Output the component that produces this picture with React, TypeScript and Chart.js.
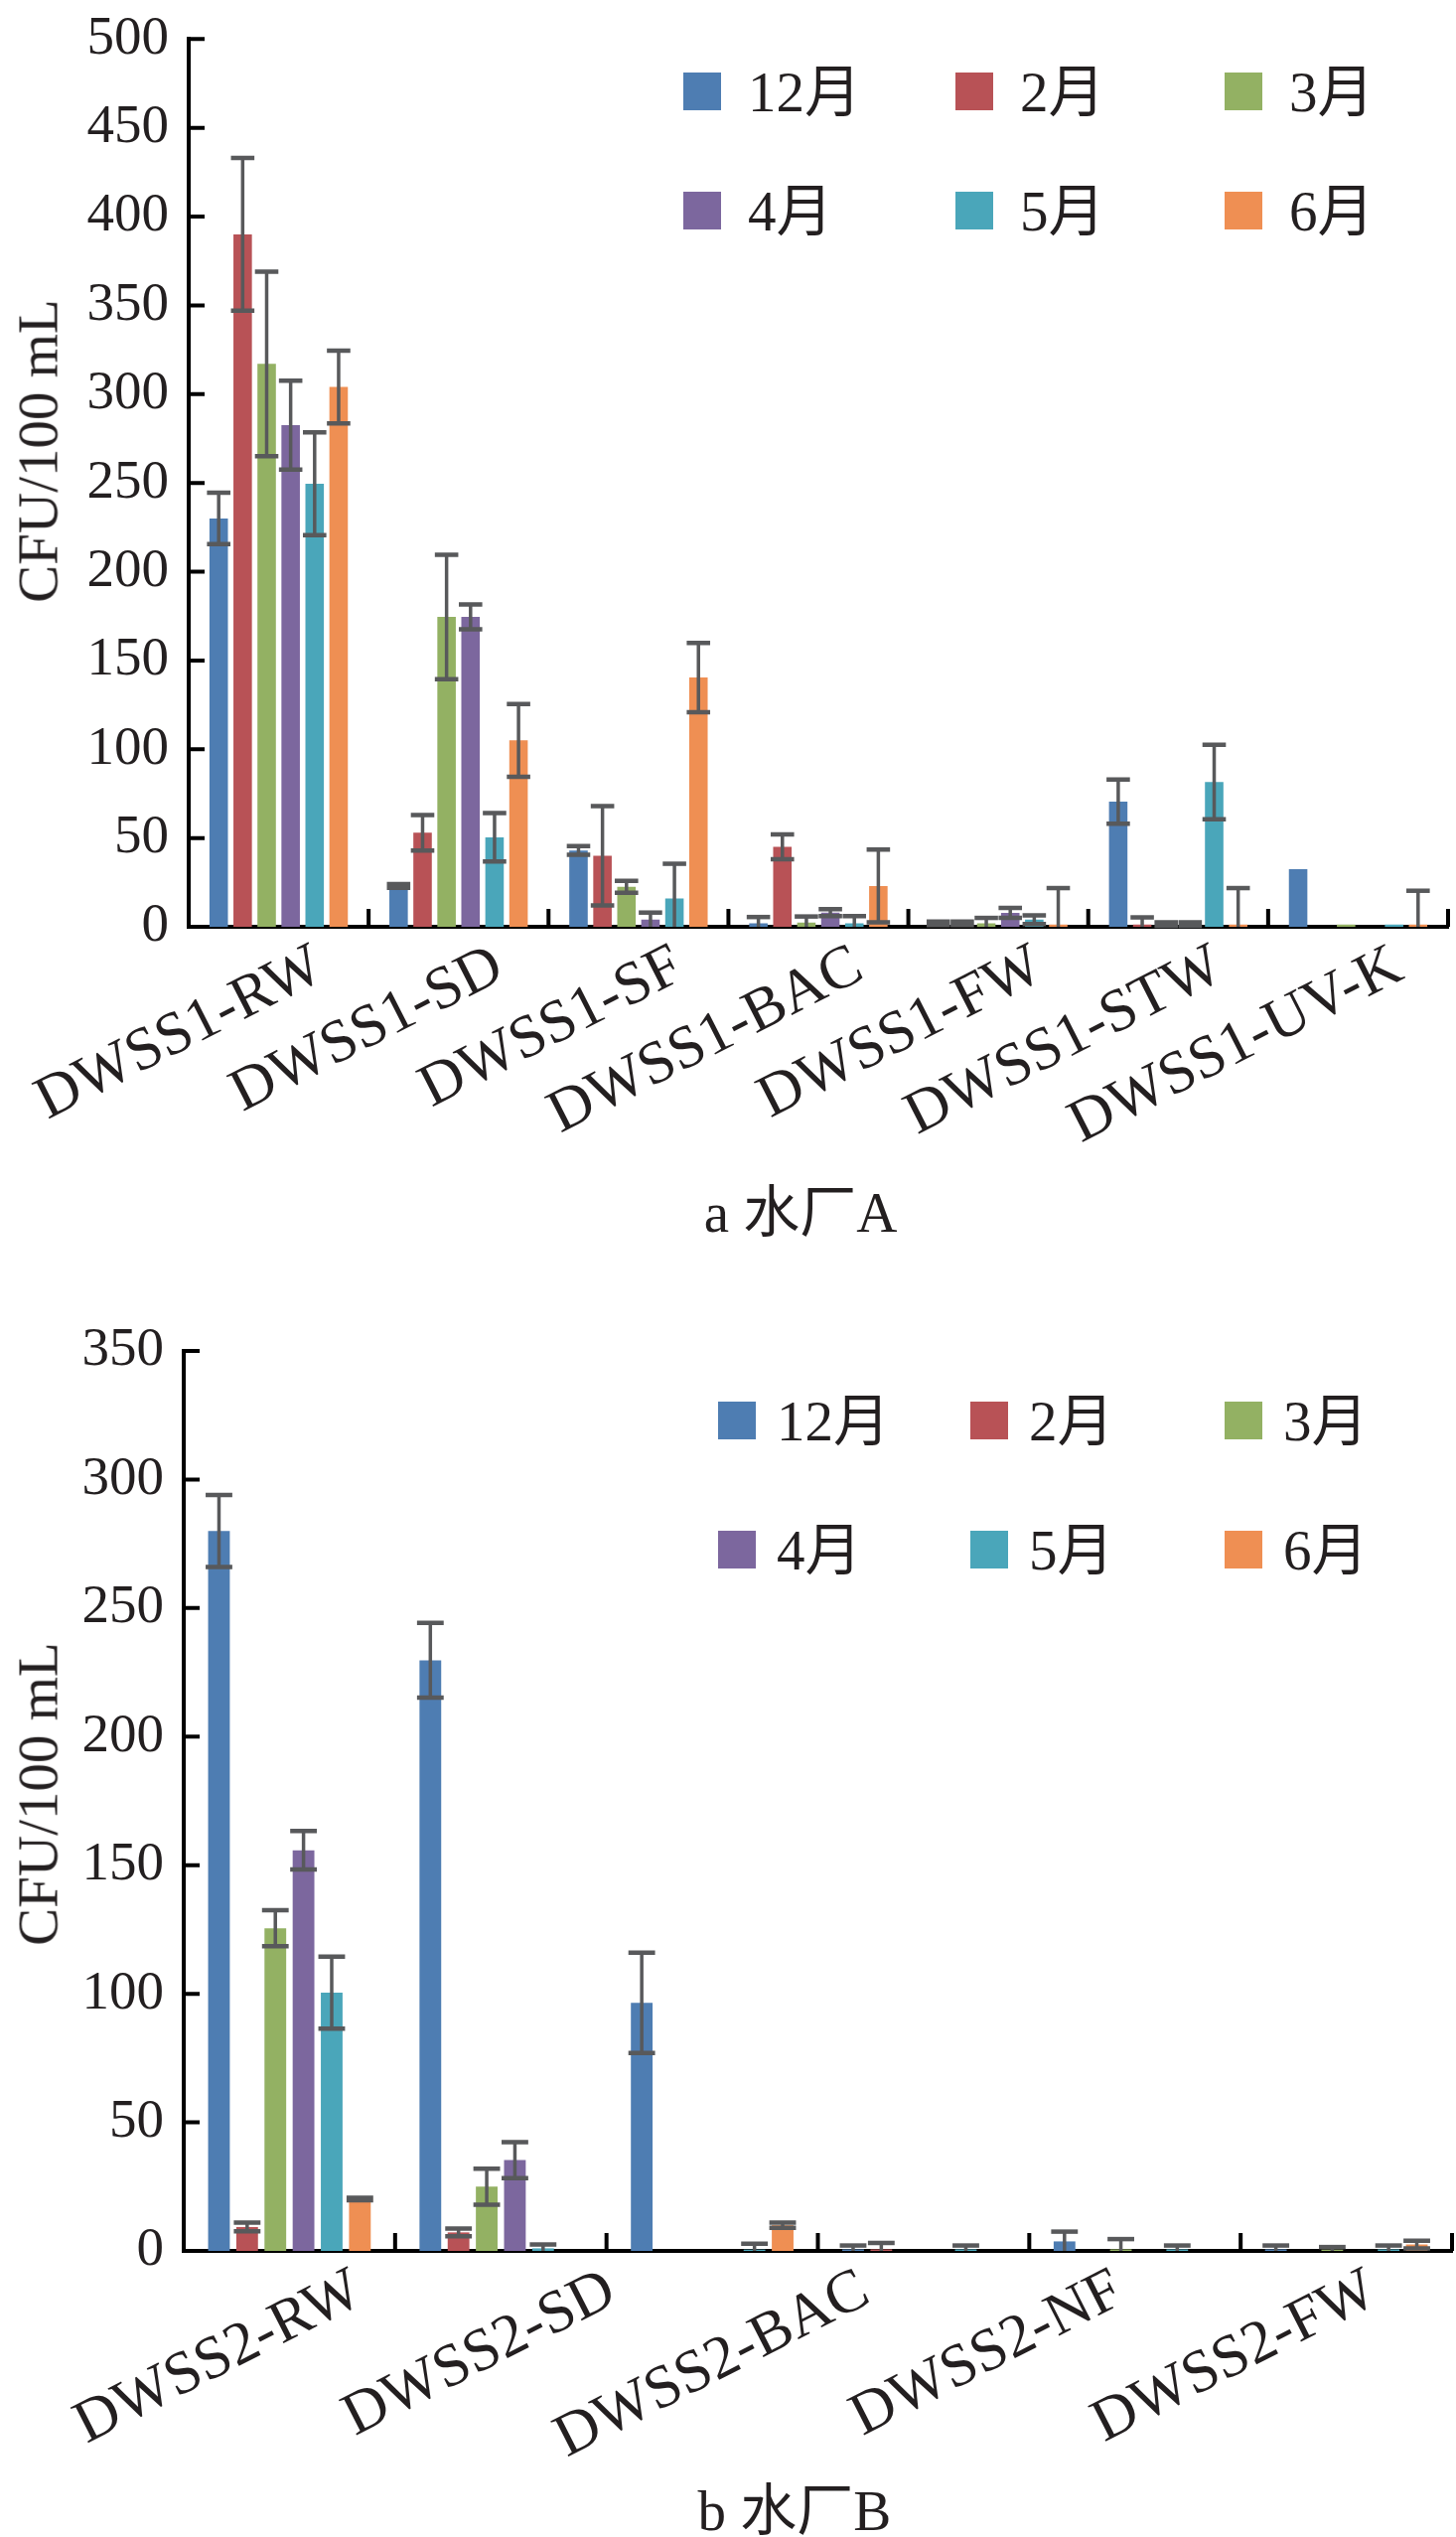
import React, { useEffect, useRef } from 'react';
import { Chart, registerables } from 'chart.js';

Chart.register(...registerables);

// ---------------- data ----------------
const months = ['12月', '2月', '3月', '4月', '5月', '6月'];
const colors = ['#4e7db2', '#b85256', '#93b163', '#7c679e', '#4aa6ba', '#ef8f53'];

// Plant A
const sitesA = ['DWSS1-RW', 'DWSS1-SD', 'DWSS1-SF', 'DWSS1-BAC', 'DWSS1-FW', 'DWSS1-STW', 'DWSS1-UV-K'];
const aDec = [230, 23, 43, 2, 2, 70.5, 32.4];
const aFeb = [390, 53, 40, 45, 2, 1.3, 0];
const aMar = [317, 174.5, 22.5, 2.4, 2, 1.5, 1.3];
const aApr = [282.5, 174.5, 4, 8, 7.8, 1.5, 0];
const aMay = [249.5, 50.4, 16, 2, 4, 81.5, 1.3];
const aJun = [304, 105, 140.4, 23, 1.3, 1.3, 1.3];
const aDecErr = [14.5, 1, 2.5, 3.5, 1, 12.5, 0];
const aFebErr = [43, 10, 28, 7, 1, 4, 0];
const aMarErr = [52, 35, 3.4, 3.4, 3, 1, 0];
const aAprErr = [25, 7, 4, 2, 2.8, 1, 0];
const aMayErr = [29, 13.6, 19.5, 4, 2.5, 21, 0];
const aJunErr = [20.5, 20.5, 19.5, 20.5, 20.5, 20.5, 19];
const yTicksA = { min: 0, max: 500, step: 50 };

// Plant B (six bar groups, five printed tick labels)
const groupsB = ['B1', 'B2', 'B3', 'B4', 'B5', 'B6'];
const tickLabelsB = ['DWSS2-RW', 'DWSS2-SD', 'DWSS2-BAC', 'DWSS2-NF', 'DWSS2-FW'];
const bDec = [280, 229.7, 96.5, 0.6, 3.7, 0.6];
const bFeb = [9.3, 7.2, 0, 0.6, 0, 0];
const bMar = [125.5, 25, 0, 0, 0.6, 0.5];
const bApr = [155.8, 35.3, 0, 0, 0, 0];
const bMay = [100.4, 1, 0.5, 0.6, 0.6, 0.6];
const bJun = [20.2, 0, 10, 0, 0, 2.5];
const bDecErr = [14, 14.5, 19.5, 1.5, 3.8, 1.5];
const bFebErr = [1.7, 1.5, 0, 2.5, 0, 0];
const bMarErr = [7, 7, 0, 0, 4, 1];
const bAprErr = [7.5, 7, 0, 0, 0, 0];
const bMayErr = [14, 1.5, 2.3, 1.5, 1.5, 1.5];
const bJunErr = [0.5, 0, 1, 0, 0, 1.5];
const yTicksB = { min: 0, max: 350, step: 50 };

const yTitle = 'CFU/100 mL';
const captionA = 'a 水厂A';
const captionB = 'b 水厂B';

// ---------------- styling ----------------
const SERIF = "'Liberation Serif', 'Times New Roman', 'Noto Sans CJK SC', serif";
const TEXT = '#231f20';
const ERR = '#58595b';

const errorBarPlugin = {
  id: 'errorBars',
  afterDatasetsDraw(chart: any, _args: any, opts: any) {
    const { ctx } = chart;
    const y = chart.scales.y;
    ctx.save();
    ctx.strokeStyle = opts.color;
    ctx.lineCap = 'butt';
    chart.data.datasets.forEach((ds: any, di: number) => {
      const meta = chart.getDatasetMeta(di);
      const errs = ds.errors;
      if (!errs) return;
      meta.data.forEach((bar: any, i: number) => {
        const e = errs[i];
        const v = ds.data[i];
        if (!e) return;
        const top = y.getPixelForValue(v + e);
        const low = Math.max(v - e, 0);
        const bot = y.getPixelForValue(low);
        const half = bar.width / 2 + opts.capExtra;
        ctx.lineWidth = opts.stemWidth;
        ctx.beginPath();
        ctx.moveTo(bar.x, top);
        ctx.lineTo(bar.x, bot);
        ctx.stroke();
        ctx.lineWidth = opts.capWidth;
        ctx.beginPath();
        ctx.moveTo(bar.x - half, top);
        ctx.lineTo(bar.x + half, top);
        if (low > 0) {
          ctx.moveTo(bar.x - half, bot);
          ctx.lineTo(bar.x + half, bot);
        }
        ctx.stroke();
      });
    });
    ctx.restore();
  },
};

const innerTicksPlugin = {
  id: 'innerTicks',
  afterDraw(chart: any, _args: any, opts: any) {
    const { ctx, chartArea } = chart;
    const y = chart.scales.y;
    const x = chart.scales.x;
    ctx.save();
    ctx.strokeStyle = '#000';
    ctx.lineWidth = opts.width;
    ctx.beginPath();
    y.ticks.forEach((t: any) => {
      const py = y.getPixelForValue(t.value);
      ctx.moveTo(chartArea.left, py);
      ctx.lineTo(chartArea.left + opts.yLen, py);
    });
    const n = x.getLabels().length;
    const step = x.getPixelForValue(1) - x.getPixelForValue(0);
    for (let i = 0; i < n; i++) {
      const px = x.getPixelForValue(i) + step / 2;
      ctx.moveTo(px, chartArea.bottom);
      ctx.lineTo(px, chartArea.bottom - opts.xLen);
    }
    ctx.stroke();
    ctx.restore();
  },
};

function makeDatasets(values: number[][], errors: number[][]) {
  return months.map((m, i) => ({
    label: m,
    data: values[i],
    errors: errors[i],
    backgroundColor: colors[i],
    borderWidth: 0,
    categoryPercentage: 0.8,
    barPercentage: 0.77,
    xAxisID: 'x',
  }));
}

function yScale(t: { min: number; max: number; step: number }, width: number) {
  return {
    min: t.min,
    max: t.max,
    grid: { display: false, drawTicks: false },
    border: { display: true, color: '#000', width: 4 },
    ticks: { stepSize: t.step, padding: 20, color: TEXT, font: { family: SERIF, size: 55, lineHeight: 0.7 } },
    title: { display: false },
    afterFit: (s: any) => { s.width = width; },
  };
}

function fixX(height: number) {
  return (s: any) => {
    s.height = height;
    s.paddingLeft = 0;
    s.paddingRight = 0;
  };
}

const rotatedTicks = {
  autoSkip: false,
  minRotation: 27,
  maxRotation: 27,
  padding: 4,
  labelOffset: 41,
  color: TEXT,
  font: { family: SERIF, size: 61 },
};

const commonOptions = {
  responsive: false,
  animation: false,
  devicePixelRatio: 1,
};

const pluginOpts = {
  legend: { display: false },
  tooltip: { enabled: false },
  errorBars: { color: ERR, stemWidth: 3.5, capWidth: 4.5, capExtra: 2.5 },
  innerTicks: { width: 4, yLen: 16, xLen: 18 },
};

function configA(): any {
  return {
    type: 'bar',
    data: {
      labels: sitesA,
      datasets: makeDatasets([aDec, aFeb, aMar, aApr, aMay, aJun], [aDecErr, aFebErr, aMarErr, aAprErr, aMayErr, aJunErr]),
    },
    plugins: [errorBarPlugin, innerTicksPlugin],
    options: {
      ...commonOptions,
      layout: { padding: { top: 20, right: 8, left: 0, bottom: 0 } },
      plugins: pluginOpts,
      scales: {
        x: {
          type: 'category',
          offset: true,
          grid: { display: false, drawTicks: false },
          border: { display: true, color: '#000', width: 4 },
          ticks: rotatedTicks,
          afterFit: fixX(247),
        },
        y: yScale(yTicksA, 190),
      },
    },
  };
}

function configB(): any {
  return {
    type: 'bar',
    data: {
      labels: groupsB,
      datasets: makeDatasets([bDec, bFeb, bMar, bApr, bMay, bJun], [bDecErr, bFebErr, bMarErr, bAprErr, bMayErr, bJunErr]),
    },
    plugins: [errorBarPlugin, innerTicksPlugin],
    options: {
      ...commonOptions,
      layout: { padding: { top: 40, right: 4, left: 0, bottom: 0 } },
      plugins: pluginOpts,
      scales: {
        x: {
          type: 'category',
          offset: true,
          weight: 0,
          grid: { display: false, drawTicks: false },
          border: { display: true, color: '#000', width: 4 },
          ticks: { display: false },
          afterFit: fixX(0),
        },
        xl: {
          type: 'category',
          labels: tickLabelsB,
          position: 'bottom',
          offset: true,
          weight: 1,
          grid: { display: false, drawTicks: false },
          border: { display: false },
          ticks: { ...rotatedTicks, labelOffset: 48 },
          afterFit: fixX(244),
        },
        y: yScale(yTicksB, 185),
      },
    },
  };
}

function ChartCanvas({ top, height, make }: { top: number; height: number; make: () => any }) {
  const ref = useRef<HTMLCanvasElement | null>(null);
  useEffect(() => {
    if (!ref.current) return;
    const chart = new Chart(ref.current, make());
    return () => chart.destroy();
  }, []);
  return (
    <canvas
      ref={ref}
      width={1466}
      height={height}
      style={{ position: 'absolute', left: 0, top, width: 1466, height, display: 'block' }}
    />
  );
}

function Legend({ xs, rows, gap }: { xs: number[]; rows: number[]; gap: number }) {
  return (
    <>
      {months.map((m, i) => {
        const col = i % 3;
        const row = Math.floor(i / 3);
        return (
          <div
            key={m}
            style={{
              position: 'absolute',
              left: xs[col],
              top: rows[row] - 28.5,
              height: 57,
              display: 'flex',
              alignItems: 'center',
              whiteSpace: 'nowrap',
            }}
          >
            <div style={{ width: 38, height: 38, background: colors[i], marginRight: gap }} />
            <span style={{ fontFamily: SERIF, fontSize: 57, lineHeight: '57px', color: TEXT }}>{m}</span>
          </div>
        );
      })}
    </>
  );
}

function Caption({ text, cx, top }: { text: string; cx: number; top: number }) {
  return (
    <div
      style={{
        position: 'absolute',
        left: cx - 200,
        width: 400,
        top,
        textAlign: 'center',
        fontFamily: SERIF,
        fontSize: 57,
        lineHeight: '57px',
        color: TEXT,
        whiteSpace: 'nowrap',
      }}
    >
      {text}
    </div>
  );
}

function AxisTitle({ text, cx, cy }: { text: string; cx: number; cy: number }) {
  return (
    <div
      style={{
        position: 'absolute',
        left: cx,
        top: cy,
        transform: 'translate(-50%, -50%) rotate(-90deg)',
        fontFamily: SERIF,
        fontSize: 57,
        lineHeight: '57px',
        color: TEXT,
        whiteSpace: 'nowrap',
      }}
    >
      {text}
    </div>
  );
}

export default function App() {
  return (
    <div style={{ position: 'absolute', left: 0, top: 0, width: 1466, height: 2554, background: '#fff', overflow: 'hidden' }}>
      <ChartCanvas top={0} height={1180} make={configA} />
      <ChartCanvas top={1320} height={1190} make={configB} />
      <AxisTitle text={yTitle} cx={38} cy={454} />
      <AxisTitle text={yTitle} cx={38} cy={1806} />
      <Legend xs={[688, 962, 1233]} rows={[92, 212]} gap={27} />
      <Legend xs={[723, 977, 1233]} rows={[1430, 1560]} gap={21} />
      <Caption text={captionA} cx={806} top={1192} />
      <Caption text={captionB} cx={800} top={2499} />
    </div>
  );
}
